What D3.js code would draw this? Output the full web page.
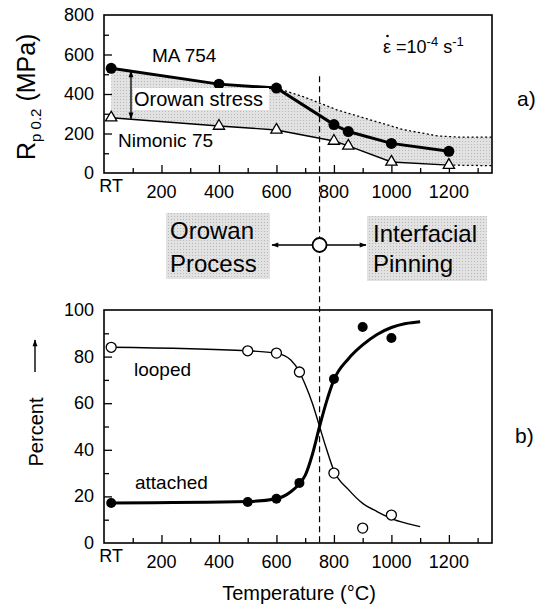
<!DOCTYPE html>
<html>
<head>
<meta charset="utf-8">
<script src="https://cdn.jsdelivr.net/npm/d3@7"></script>
<style>
  body { margin: 0; background: #fff; }
  svg { display: block; font-family: "Liberation Sans", Arial, sans-serif; }
</style>
</head>
<body>
<svg width="546" height="609"></svg>
<script>
// temperature axis
const majorTemps = [200, 400, 600, 800, 1000, 1200]
const minorTemps = [100, 300, 500, 700, 900, 1100, 1300]
const rtTemp = 25
const splitTemp = 750

// a) yield strength (MPa)
const stressTicks = [0, 200, 400, 600, 800]
const stressMinor = [100, 300, 500, 700]
const ma754 = [[25, 530], [400, 450], [600, 430], [800, 245], [850, 210], [1000, 150], [1200, 110]]
const nimonic75 = [[25, 280], [400, 238], [600, 218], [800, 162], [850, 137], [1000, 56], [1200, 40]]
const upperBound = [[600, 430], [700, 383], [810, 320], [925, 270], [1040, 220], [1160, 188], [1230, 182], [1350, 182]]
const lowerBound = [[1200, 40], [1350, 37]]

// b) particle / dislocation interaction (%)
const percentTicks = [0, 20, 40, 60, 80, 100]
const percentMinor = [10, 30, 50, 70, 90]
const looped = [[25, 84], [500, 82.5], [600, 81.5], [680, 73.4], [800, 30], [900, 6.4], [1000, 12]]
const attached = [[25, 17.2], [500, 17.6], [600, 19], [680, 25.8], [800, 70.4], [900, 92.7], [1000, 88]]
const loopedFit = [[25, 84], [500, 82.5], [600, 81.5], [650, 78.5], [680, 73.4], [700, 68], [725, 60], [750, 50],
  [775, 40], [800, 31], [850, 23], [900, 17], [950, 13.5], [1000, 10.5], [1050, 8.5], [1100, 7]]
const attachedFit = [[25, 17.2], [500, 17.8], [600, 19], [650, 22], [680, 25.5], [700, 29], [725, 38], [750, 50],
  [775, 61], [800, 70], [850, 79], [900, 85], [950, 89.5], [1000, 92.5], [1050, 94.2], [1100, 95]]

var svg = d3.select("svg")

var x = d3.scaleLinear().domain([0, 1350]).range([104, 492]),
    yA = d3.scaleLinear().domain([0, 800]).range([173, 15]),
    yB = d3.scaleLinear().domain([0, 100]).range([543, 310])

var defs = svg.append("defs")
var pat = defs.append("pattern")
    .attr("id", "stipple")
    .attr("width", 3).attr("height", 3)
    .attr("patternUnits", "userSpaceOnUse")
pat.append("rect").attr("width", 3).attr("height", 3).attr("fill", "#e2e2e2")
pat.append("rect").attr("width", 1).attr("height", 1).attr("fill", "#b8b8b8")

defs.append("marker")
    .attr("id", "head")
    .attr("viewBox", "0 0 10 10")
    .attr("refX", 9).attr("refY", 5)
    .attr("markerWidth", 9).attr("markerHeight", 7)
    .attr("markerUnits", "userSpaceOnUse")
    .attr("orient", "auto-start-reverse")
  .append("path")
    .attr("d", "M0,1.5L10,5L0,8.5Z")
    .attr("fill", "#000")

function panel(y, majors, minors) {
    var g = svg.append("g")
    var r = y.range()
    g.append("g")
        .attr("transform", "translate(0," + r[0] + ")")
        .call(d3.axisBottom(x).tickValues(majorTemps).tickSize(-8).tickFormat(""))
    g.append("g")
        .attr("transform", "translate(0," + r[0] + ")")
        .call(d3.axisBottom(x).tickValues(minorTemps).tickSize(-5).tickFormat(""))
    g.append("g")
        .attr("transform", "translate(" + x.range()[0] + ",0)")
        .call(d3.axisLeft(y).tickValues(majors.slice(1, -1)).tickSize(-8).tickFormat(""))
    g.append("g")
        .attr("transform", "translate(" + x.range()[0] + ",0)")
        .call(d3.axisLeft(y).tickValues(minors).tickSize(-5).tickFormat(""))
    g.selectAll(".domain").remove()
    g.selectAll(".tick line").attr("stroke-width", 1.3)
    g.append("rect")
        .attr("x", x.range()[0]).attr("y", r[1])
        .attr("width", x.range()[1] - x.range()[0])
        .attr("height", r[0] - r[1])
        .attr("fill", "none").attr("stroke", "#000").attr("stroke-width", 1.6)

    // tick labels
    g.selectAll(".ylab").data(majors).enter().append("text")
        .attr("x", 94).attr("y", d => y(d) + 6)
        .attr("text-anchor", "end")
        .style("font-size", "18px")
        .text(d => d)
    g.selectAll(".xlab").data(majorTemps).enter().append("text")
        .attr("x", d => x(d)).attr("y", r[0] + 25)
        .attr("text-anchor", "middle")
        .style("font-size", "18px")
        .text(d => d)
    g.append("text")
        .attr("x", x(rtTemp)).attr("y", r[0] + 19)
        .attr("text-anchor", "middle")
        .style("font-size", "18px")
        .text("RT")
    return g
}

var gA = panel(yA, stressTicks, stressMinor)
var gB = panel(yB, percentTicks, percentMinor)

// ---- a) ----
var lineA = d3.line().x(d => x(d[0])).y(d => yA(d[1]))
var outline = ma754.filter(d => d[0] < 600).concat(upperBound)
    .concat(nimonic75.filter(d => d[0] < 1200).concat(lowerBound).reverse())
gA.insert("path", ":first-child")
    .attr("d", lineA(outline) + "Z")
    .attr("fill", "url(#stipple)")

gA.append("path").attr("d", lineA(upperBound))
    .attr("fill", "none").attr("stroke", "#000").attr("stroke-width", 1.3).attr("stroke-dasharray", "2,2.5")
gA.append("path").attr("d", lineA(lowerBound))
    .attr("fill", "none").attr("stroke", "#000").attr("stroke-width", 1.3).attr("stroke-dasharray", "2,2.5")
gA.append("path").attr("d", lineA(nimonic75))
    .attr("fill", "none").attr("stroke", "#000").attr("stroke-width", 1.4)
gA.append("path").attr("d", lineA(ma754))
    .attr("fill", "none").attr("stroke", "#000").attr("stroke-width", 3)

gA.selectAll(".ma").data(ma754).enter().append("circle")
    .attr("cx", d => x(d[0])).attr("cy", d => yA(d[1])).attr("r", 5.5)
    .attr("fill", "#000")
gA.selectAll(".ni").data(nimonic75).enter().append("path")
    .attr("transform", d => "translate(" + x(d[0]) + "," + yA(d[1]) + ")")
    .attr("d", d3.symbol(d3.symbolTriangle, 55))
    .attr("fill", "#fff").attr("stroke", "#000").attr("stroke-width", 1.3)

// Orowan stress annotation
gA.append("rect").attr("x", 133).attr("y", 88).attr("width", 136).attr("height", 22).attr("fill", "#fff")
gA.append("line")
    .attr("x1", 131).attr("x2", 131).attr("y1", yA(517)).attr("y2", yA(275))
    .attr("stroke", "#000").attr("stroke-width", 1.3)
    .attr("marker-start", "url(#head)").attr("marker-end", "url(#head)")
gA.append("text").attr("x", 134).attr("y", 106).style("font-size", "20px").text("Orowan stress")
gA.append("text").attr("x", 152).attr("y", 62).style("font-size", "19px").text("MA 754")
gA.append("text").attr("x", 118).attr("y", 147).style("font-size", "19px").text("Nimonic 75")

// strain rate
var eps = gA.append("text").attr("x", 383).attr("y", 53).style("font-size", "18px")
eps.append("tspan").text("\u03b5 =10")
eps.append("tspan").attr("dy", -7).style("font-size", "13px").text("-4")
eps.append("tspan").attr("dy", 7).text(" s")
eps.append("tspan").attr("dy", -7).style("font-size", "13px").text("-1")
gA.append("circle").attr("cx", 387.5).attr("cy", 36).attr("r", 1.3).attr("fill", "#000")

svg.append("text").attr("x", 517).attr("y", 106).style("font-size", "21px").text("a)")

var yt = svg.append("text")
    .attr("transform", "translate(35,160) rotate(-90)")
    .style("font-size", "25px")
yt.append("tspan").text("R")
yt.append("tspan").attr("dy", 6).style("font-size", "15px").text("p 0.2")
yt.append("tspan").attr("dy", -6).text(" (MPa)")

// ---- mechanism change ----
svg.append("line")
    .attr("x1", x(splitTemp)).attr("x2", x(splitTemp))
    .attr("y1", yA(490)).attr("y2", yB(0))
    .attr("stroke", "#000").attr("stroke-width", 1.2).attr("stroke-dasharray", "6,4")

svg.append("rect").attr("x", 166).attr("y", 213).attr("width", 104).attr("height", 66).attr("fill", "url(#stipple)")
svg.append("rect").attr("x", 367).attr("y", 216).attr("width", 120).attr("height", 65).attr("fill", "url(#stipple)")
svg.append("text").attr("x", 170).attr("y", 239).style("font-size", "24px").text("Orowan")
svg.append("text").attr("x", 170).attr("y", 272).style("font-size", "24px").text("Process")
svg.append("text").attr("x", 373).attr("y", 242).style("font-size", "24px").text("Interfacial")
svg.append("text").attr("x", 373).attr("y", 272).style("font-size", "24px").text("Pinning")

var cx = x(splitTemp)
svg.append("line").attr("x1", cx - 7).attr("x2", 272).attr("y1", 245).attr("y2", 245)
    .attr("stroke", "#000").attr("stroke-width", 1.4).attr("marker-end", "url(#head)")
svg.append("line").attr("x1", cx + 7).attr("x2", 366).attr("y1", 245).attr("y2", 245)
    .attr("stroke", "#000").attr("stroke-width", 1.4).attr("marker-end", "url(#head)")
svg.append("circle").attr("cx", cx).attr("cy", 245).attr("r", 7)
    .attr("fill", "#fff").attr("stroke", "#000").attr("stroke-width", 1.8)

// ---- b) ----
var lineB = d3.line().x(d => x(d[0])).y(d => yB(d[1])).curve(d3.curveMonotoneX)
gB.append("path").attr("d", lineB(loopedFit))
    .attr("fill", "none").attr("stroke", "#000").attr("stroke-width", 1.4)
gB.append("path").attr("d", lineB(attachedFit))
    .attr("fill", "none").attr("stroke", "#000").attr("stroke-width", 3)
gB.selectAll(".att").data(attached).enter().append("circle")
    .attr("cx", d => x(d[0])).attr("cy", d => yB(d[1])).attr("r", 5)
    .attr("fill", "#000")
gB.selectAll(".loop").data(looped).enter().append("circle")
    .attr("cx", d => x(d[0])).attr("cy", d => yB(d[1])).attr("r", 5)
    .attr("fill", "#fff").attr("stroke", "#000").attr("stroke-width", 1.3)

gB.append("text").attr("x", 134).attr("y", 376).style("font-size", "19px").text("looped")
gB.append("text").attr("x", 135).attr("y", 489).style("font-size", "19px").text("attached")

svg.append("text").attr("x", 515).attr("y", 443).style("font-size", "21px").text("b)")

svg.append("text")
    .attr("transform", "translate(43,432) rotate(-90)")
    .attr("text-anchor", "middle")
    .style("font-size", "20px")
    .text("Percent")
svg.append("line").attr("x1", 35).attr("x2", 35).attr("y1", 372).attr("y2", 340)
    .attr("stroke", "#000").attr("stroke-width", 1.4).attr("marker-end", "url(#head)")

svg.append("text")
    .attr("x", 299).attr("y", 600)
    .attr("text-anchor", "middle")
    .style("font-size", "20px")
    .text("Temperature (\u00b0C)")
</script>
</body>
</html>
